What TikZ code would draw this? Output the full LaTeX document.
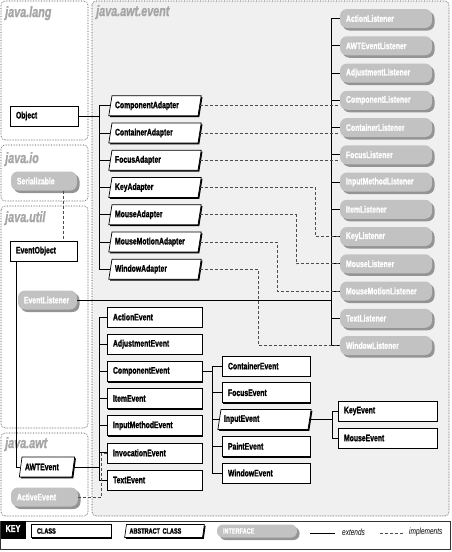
\documentclass[tikz,border=0pt]{standalone}
\usepackage{fontspec}
\setmainfont{Liberation Sans}[FakeStretch=0.72, BoldFeatures={FakeBold=1.2}, BoldItalicFeatures={FakeBold=1.2}]
\usetikzlibrary{shapes.geometric,shadows,positioning}
\newcommand\clsfont{\fontsize{9.5}{10}\selectfont\bfseries}
\newcommand\keyfont{\fontsize{7.7}{8}\selectfont\bfseries}
\tikzset{
  pkg/.style={draw=black!75, densely dotted, rounded corners=4pt, line width=0.6pt},
  pkglabel/.style={anchor=north west, inner sep=0pt, text=black!35, font=\fontsize{15}{15}\selectfont\bfseries\itshape},
  cls/.style={rectangle, draw, fill=white, line width=0.7pt, minimum height=20pt, inner xsep=6pt, inner ysep=2pt,
    text width=#1, align=left, font=\clsfont,
    drop shadow={shadow xshift=1.3pt, shadow yshift=-1.3pt, fill=black, opacity=1}},
  cls/.default=83pt,
  abscls/.style={trapezium, trapezium left angle=76, trapezium right angle=104, trapezium stretches body,
    draw, fill=white, line width=0.7pt, minimum height=20pt, inner xsep=3pt, inner ysep=2pt,
    text width=#1, align=left, font=\clsfont,
    drop shadow={shadow xshift=1.3pt, shadow yshift=-1.3pt, fill=black, opacity=1}},
  abscls/.default=80pt,
  iface/.style={rectangle, rounded corners=7pt, fill=black!24, text=white, minimum height=19pt, inner xsep=6pt, inner ysep=2pt,
    text width=#1, align=left, font=\clsfont,
    drop shadow={shadow xshift=2.5pt, shadow yshift=-2.5pt, fill=black!42, opacity=1}},
  iface/.default=80pt,
  ext/.style={line width=0.9pt},
  impl/.style={line width=0.6pt, black!70, dash pattern=on 3pt off 2pt},
}

\begin{document}
\begin{tikzpicture}[x=1pt,y=-1pt]
\useasboundingbox (0,0) rectangle (452,552);
% packages
\draw[pkg, fill=black!6] (92,1) rectangle (449,516);
\draw[pkg, fill=white] (1,1) rectangle (88,140);
\draw[pkg, fill=white] (1,145) rectangle (88,201);
\draw[pkg, fill=white] (1,206) rectangle (88,428);
\draw[pkg, fill=white] (1,433) rectangle (88,516);
\node[pkglabel] (langlabel) at (5,6) {java.lang};
\node[pkglabel] (eventlabel) at (96,5) {java.awt.event};
\node[pkglabel] (iolabel) at (5,152) {java.io};
\node[pkglabel] (utillabel) at (5,211) {java.util};
\node[pkglabel] (awtlabel) at (5,437) {java.awt};
% trunks
\coordinate (adtrunk) at (99,0);
\coordinate (evtrunk) at (99,0);
\coordinate (cetrunk) at (212,0);
\coordinate (ietrunk) at (332,0);
\coordinate (lstrunk) at (331,0);
% left column
\node[cls=56pt] (Object) at (44,116) {Object};
\node[iface=54pt] (Serializable) at (44,181) {Serializable};
\node[cls=55pt] (EventObject) at (43.5,251) {EventObject};
\node[iface=47pt] (EventListener) at (47.5,300) {EventListener};
\node[abscls=44pt] (AWTEvent) at (47,467) {AWTEvent};
\node[iface=55pt] (ActiveEvent) at (44.5,497) {ActiveEvent};
% listeners
\foreach \name [count=\i from 0] in {ActionListener,AWTEventListener,AdjustmentListener,ComponentListener,
    ContainerListener,FocusListener,InputMethodListener,ItemListener,KeyListener,MouseListener,
    MouseMotionListener,TextListener,WindowListener} {
  \node[iface] (\name) at (386,{18.5+27.25*\i}) {\name};
  \draw[ext] (\name.west) -- (\name.west -| lstrunk);
}
\draw[ext] (ActionListener.west -| lstrunk) -- (WindowListener.west -| lstrunk);
\draw[ext] (EventListener.east) -- (EventListener.east -| lstrunk);
% adapters
\foreach \name [count=\i from 3] in {ComponentAdapter,ContainerAdapter,FocusAdapter,KeyAdapter,
    MouseAdapter,MouseMotionAdapter,WindowAdapter} {
  \node[abscls] (\name) at (155,{24+27.25*\i}) {\name};
  \draw[ext] (\name.west) -- (\name.west -| adtrunk);
}
\draw[ext] (ComponentAdapter.west -| adtrunk) -- (WindowAdapter.west -| adtrunk);
\draw[ext] (Object.east) -- (Object.east -| adtrunk);
\foreach \a/\b in {ComponentAdapter/ComponentListener,ContainerAdapter/ContainerListener,FocusAdapter/FocusListener}
  \draw[impl] (\a.east) -- (\a.east -| \b.west);
\foreach \a/\b/\x in {KeyAdapter/KeyListener/315,MouseAdapter/MouseListener/296,
    MouseMotionAdapter/MouseMotionListener/277,WindowAdapter/WindowListener/258} {
  \coordinate (kink) at (\x,0);
  \draw[impl] (\a.east) -- (\a.east -| kink) |- (\b.west);
}
% events
\foreach \name [count=\i from 0] in {ActionEvent,AdjustmentEvent,ComponentEvent,ItemEvent,
    InputMethodEvent,InvocationEvent,TextEvent} {
  \node[cls] (\name) at (154.5,{317+27.17*\i}) {\name};
  \draw[ext] (\name.west) -- (\name.west -| evtrunk);
}
\draw[ext] (ActionEvent.west -| evtrunk) -- (TextEvent.west -| evtrunk);
\draw[ext] (AWTEvent.east) -- (AWTEvent.east -| evtrunk);
\draw[ext] ([xshift=-27.5pt]EventObject.south) |- (AWTEvent.west);
\draw[impl] ([xshift=19pt]Serializable.south) -- ([xshift=19pt]Serializable.south |- EventObject.north);
\draw[impl] (InvocationEvent.west) -- ++(-5,0) |- (ActiveEvent.east);
% ComponentEvent subclasses
\foreach \i/\name in {0/ContainerEvent,1/FocusEvent,3/PaintEvent,4/WindowEvent} {
  \node[cls=76pt] (\name) at (266,{366+26.75*\i}) {\name};
  \draw[ext] (\name.west) -- (\name.west -| cetrunk);
}
\node[abscls=81pt] (InputEvent) at (264.5,419.5) {InputEvent};
\draw[ext] (InputEvent.west) -- (InputEvent.west -| cetrunk);
\draw[ext] (ContainerEvent.west -| cetrunk) -- (WindowEvent.west -| cetrunk);
\draw[ext] (ComponentEvent.east) -- (ComponentEvent.east -| cetrunk);
% InputEvent subclasses
\node[cls=87pt] (KeyEvent) at (387.5,411) {KeyEvent};
\node[cls=87pt] (MouseEvent) at (387.5,438) {MouseEvent};
\foreach \name in {KeyEvent,MouseEvent}
  \draw[ext] (\name.west) -- (\name.west -| ietrunk);
\draw[ext] (KeyEvent.west -| ietrunk) -- (MouseEvent.west -| ietrunk);
\draw[ext] (InputEvent.east) -- (InputEvent.east -| ietrunk);
% key
\draw[black!80, line width=0.6pt] (0.5,521) rectangle (450,549);
\fill[black] (0.5,521) rectangle (26,539);
\node[text=white, font=\fontsize{10}{10}\selectfont\bfseries, inner sep=0pt] (keylabel) at (13,528.5) {KEY};
\node[cls=68pt, minimum height=13pt, inner ysep=1pt, font=\keyfont] (keyclass) at (71,531) {CLASS};
\node[abscls=70pt, minimum height=13pt, inner ysep=1pt, font=\keyfont] (keyabstract) at (164.5,531) {ABSTRACT CLASS};
\node[iface=68pt, minimum height=13pt, inner ysep=1pt, rounded corners=6pt, font=\keyfont] (keyiface) at (257,531) {INTERFACE};
\coordinate (extA) at (310,533);
\coordinate (extB) at (335,533);
\draw[ext] (extA) -- (extB);
\node[anchor=west, inner sep=0pt, font=\fontsize{9}{9}\selectfont\itshape] (extlabel) at (342,532) {extends};
\coordinate (implA) at (380,533);
\coordinate (implB) at (403,533);
\draw[impl] (implA) -- (implB);
\node[anchor=west, inner sep=0pt, font=\fontsize{9}{9}\selectfont\itshape] (impllabel) at (409,532) {implements};
\end{tikzpicture}
\end{document}
